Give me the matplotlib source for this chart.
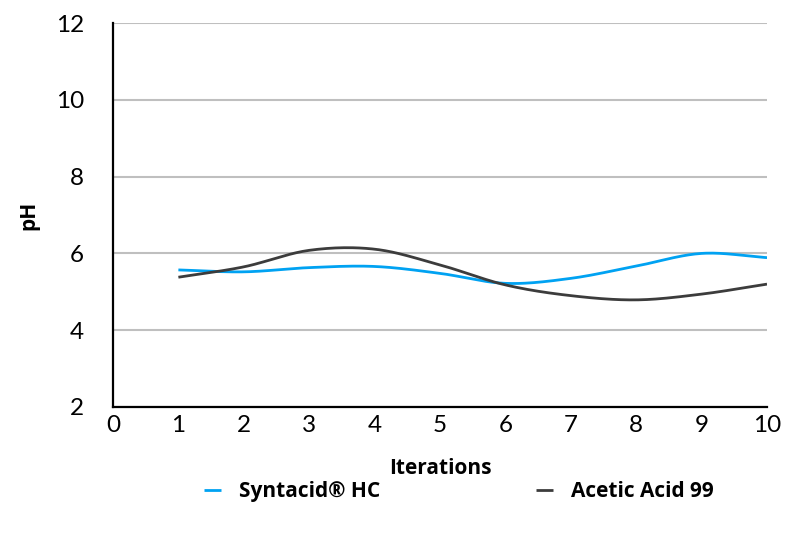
import numpy as np
import matplotlib
matplotlib.use("Agg")
import matplotlib.pyplot as plt

iterations = [1, 2, 3, 4, 5, 6, 7, 8, 9, 10]
syntacid = [5.57, 5.52, 5.63, 5.66, 5.48, 5.22, 5.35, 5.67, 6.00, 5.89]
acetic = [5.38, 5.65, 6.08, 6.11, 5.70, 5.18, 4.90, 4.79, 4.94, 5.20]
series_names = ["Syntacid® HC", "Acetic Acid 99"]
colors = ["#00A2F2", "#3C3C3C"]
yticks = [2, 4, 6, 8, 10, 12]
xticks = list(range(0, 11))


def smooth(x, y, n=30):
    # Catmull-Rom spline rendering of the line (drawing style only)
    x = np.asarray(x, float); y = np.asarray(y, float)
    px = np.concatenate([[2 * x[0] - x[1]], x, [2 * x[-1] - x[-2]]])
    py = np.concatenate([[2 * y[0] - y[1]], y, [2 * y[-1] - y[-2]]])
    xs, ys = [], []
    for i in range(1, len(px) - 2):
        t = np.linspace(0, 1, n, endpoint=(i == len(px) - 3))
        for arr, out in ((px, xs), (py, ys)):
            p0, p1, p2, p3 = arr[i - 1], arr[i], arr[i + 1], arr[i + 2]
            out.extend(0.5 * ((2 * p1) + (-p0 + p2) * t + (2 * p0 - 5 * p1 + 4 * p2 - p3) * t ** 2
                              + (-p0 + 3 * p1 - 3 * p2 + p3) * t ** 3))
    return np.array(xs), np.array(ys)


fig = plt.figure(figsize=(7.94, 5.33), dpi=100)
ax = fig.add_axes([0.1423, 0.2364, 0.8237, 0.7204])

for name, vals, c in zip(series_names, [syntacid, acetic], colors):
    sx, sy = smooth(iterations, vals)
    ax.plot(sx, sy, color=c, lw=2.0, label=name, solid_capstyle="butt", zorder=3)

ax.set_xlim(0, 10)
ax.set_ylim(2, 12)
ax.set_xticks(xticks)
ax.set_yticks(yticks)
ax.yaxis.grid(True, color="#BFBFBF", lw=1.5)
ax.set_axisbelow(True)
for s in ["top", "right"]:
    ax.spines[s].set_visible(False)
for s in ["left", "bottom"]:
    ax.spines[s].set_linewidth(1.6)
    ax.spines[s].set_color("black")
ax.tick_params(axis="both", length=0, labelsize=17.5, colors="black")
ax.tick_params(axis="y", pad=21)
ax.tick_params(axis="x", pad=6)
for lab in ax.get_xticklabels() + ax.get_yticklabels():
    lab.set_family("Lato")

ax.set_xlabel("Iterations", fontsize=15, fontweight="bold", family="Open Sans", labelpad=15.5)
ax.set_ylabel("pH", fontsize=15, fontweight="bold", family="Open Sans", labelpad=12)

fig.legend(loc="center", bbox_to_anchor=(0.578, 0.077), ncol=2, frameon=False,
           handlelength=0.8, handletextpad=0.85, columnspacing=7.5,
           prop={"family": "Open Sans", "weight": "bold", "size": 15})

fig.savefig("out.png", dpi=100)
